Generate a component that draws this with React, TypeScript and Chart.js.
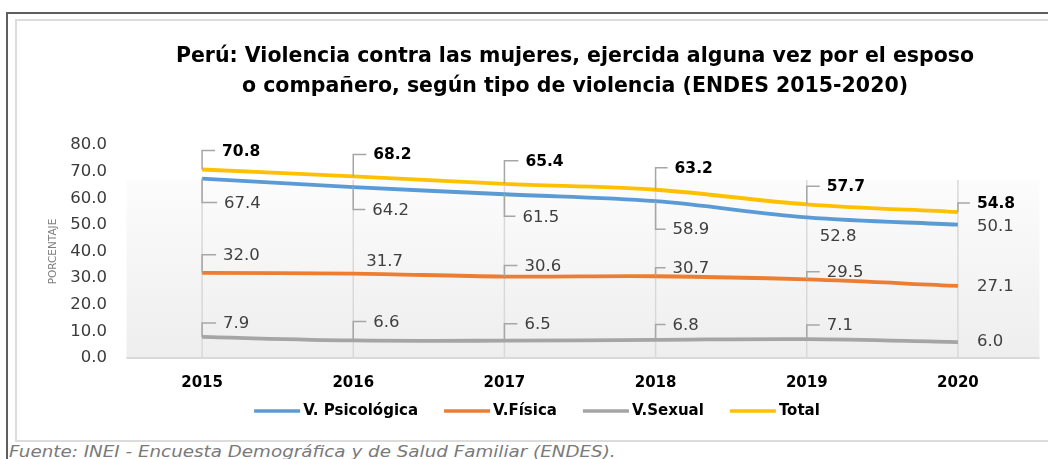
import React, { useEffect, useRef } from "react";
import { Chart, registerables } from "chart.js";

Chart.register(...registerables);

// ---------- data ----------
const years = ["2015", "2016", "2017", "2018", "2019", "2020"];
const psicologica = [67.4, 64.2, 61.5, 58.9, 52.8, 50.1];
const fisica = [32.0, 31.7, 30.6, 30.7, 29.5, 27.1];
const sexual = [7.9, 6.6, 6.5, 6.8, 7.1, 6.0];
const total = [70.8, 68.2, 65.4, 63.2, 57.7, 54.8];
const seriesNames = ["V. Psicológica", "V.Física", "V.Sexual", "Total"];
const yMin = 0;
const yMax = 80;
const yStep = 10;
const titleLines = [
  "Perú: Violencia contra las mujeres, ejercida alguna vez por el esposo",
  "o compañero, según tipo de violencia (ENDES 2015-2020)",
];
const yAxisTitle = "PORCENTAJE";
const footnote = "Fuente: INEI - Encuesta Demográfica y de Salud Familiar (ENDES).";

// ---------- label placement (pixel offsets from the point: dx to text left, dy to text middle, callout flag) ----------
const psicLabelPos = [[22, 25, 1], [19, 23.5, 1], [18, 23, 1], [17, 29, 1], [13, 19, 0], [19, 2, 0]];
const fisicaLabelPos = [[21, -17, 1], [13, -11.5, 0], [20, -10, 1], [17, -7.5, 1], [20, -6.7, 1], [19, 1, 0]];
const sexualLabelPos = [[21, -13, 1], [20, -18, 1], [20, -16, 1], [17, -14.4, 1], [20, -13, 1], [19, 0, 0]];
const totalLabelPos = [[20, -18, 1], [20, -21, 1], [21, -22, 1], [19, -21, 1], [20, -17, 1], [19, -8, 1]];

const FONT = '"DejaVu Sans", Verdana, sans-serif';
const colors = ["#5B9BD5", "#ED7D31", "#A5A5A5", "#FFC000"];

const decorPlugin = {
  id: "decor",
  beforeDatasetsDraw(chart: any) {
    const { ctx, chartArea, scales } = chart;
    const x = scales.x;
    const fillTop = chartArea.top + 35;
    ctx.save();
    const g = ctx.createLinearGradient(0, fillTop, 0, chartArea.bottom);
    g.addColorStop(0, "#fcfcfc");
    g.addColorStop(1, "#eeeeee");
    ctx.fillStyle = g;
    ctx.fillRect(chartArea.left, fillTop, chartArea.right - chartArea.left + 6, chartArea.bottom - fillTop);
    ctx.strokeStyle = "#d9d9d9";
    ctx.lineWidth = 1.5;
    years.forEach((_, i) => {
      const px = x.getPixelForTick(i);
      ctx.beginPath();
      ctx.moveTo(px, fillTop);
      ctx.lineTo(px, chartArea.bottom);
      ctx.stroke();
    });
    ctx.lineWidth = 2;
    ctx.beginPath();
    ctx.moveTo(chartArea.left, chartArea.bottom);
    ctx.lineTo(chartArea.right + 6, chartArea.bottom);
    ctx.stroke();
    ctx.restore();
  },
  afterDatasetsDraw(chart: any) {
    const { ctx } = chart;
    ctx.save();
    chart.data.datasets.forEach((ds: any, di: number) => {
      const meta = chart.getDatasetMeta(di);
      const pos = ds.labelPos;
      meta.data.forEach((pt: any, i: number) => {
        const [dx, dy, br] = pos[i];
        const px = pt.x;
        const py = pt.y;
        const ty = py + dy;
        if (br) {
          ctx.strokeStyle = "#a6a6a6";
          ctx.lineWidth = 1.5;
          ctx.beginPath();
          ctx.moveTo(px, py);
          ctx.lineTo(px, ty - 1);
          ctx.lineTo(px + dx - 7, ty - 1);
          ctx.stroke();
        }
        ctx.font = ds.labelFont;
        ctx.fillStyle = ds.labelColor;
        ctx.textAlign = "left";
        ctx.textBaseline = "middle";
        ctx.fillText(Number(ds.data[i]).toFixed(1), px + dx, ty);
      });
    });
    ctx.restore();
  },
  afterDraw(chart: any) {
    const { ctx, chartArea } = chart;
    ctx.save();
    // title
    ctx.font = `bold 20.5px ${FONT}`;
    ctx.fillStyle = "#000";
    ctx.textAlign = "center";
    ctx.textBaseline = "middle";
    const cx = (chartArea.left + chartArea.right) / 2 - 5;
    titleLines.forEach((t, i) => ctx.fillText(t, cx, 57 + i * 30));
    // legend
    const lineW = 46;
    const textGap = 3;
    const itemGap = 26;
    ctx.font = `bold 15px ${FONT}`;
    const widths = chart.data.datasets.map((ds: any) => ctx.measureText(ds.label).width);
    const totalW = widths.reduce((a: number, w: number) => a + lineW + textGap + w, 0) + itemGap * (widths.length - 1);
    let lx = 537 - totalW / 2;
    const ly = 411;
    ctx.textAlign = "left";
    chart.data.datasets.forEach((ds: any, i: number) => {
      ctx.strokeStyle = ds.borderColor;
      ctx.lineWidth = 3.5;
      ctx.beginPath();
      ctx.moveTo(lx, ly);
      ctx.lineTo(lx + lineW, ly);
      ctx.stroke();
      ctx.fillStyle = "#000";
      ctx.fillText(ds.label, lx + lineW + textGap, ly);
      lx += lineW + textGap + widths[i] + itemGap;
    });
    ctx.restore();
  },
};

export default function App() {
  const ref = useRef<HTMLCanvasElement | null>(null);
  useEffect(() => {
    const prevMargin = document.body.style.margin;
    document.body.style.margin = "0";
    const canvas = ref.current!;
    const mk = (label: string, data: number[], color: string, pos: number[][], bold: boolean) => ({
      label,
      data,
      borderColor: color,
      backgroundColor: color,
      borderWidth: 3.8,
      pointRadius: 0,
      pointHoverRadius: 0,
      tension: 0.35,
      fill: false,
      labelPos: pos,
      labelFont: bold ? `bold 15.5px ${FONT}` : `16.5px ${FONT}`,
      labelColor: bold ? "#000" : "#404040",
    });
    const chart = new Chart(canvas, {
      type: "line",
      data: {
        labels: years,
        datasets: [
          mk(seriesNames[0], psicologica, colors[0], psicLabelPos, false),
          mk(seriesNames[1], fisica, colors[1], fisicaLabelPos, false),
          mk(seriesNames[2], sexual, colors[2], sexualLabelPos, false),
          mk(seriesNames[3], total, colors[3], totalLabelPos, true),
        ] as any,
      },
      options: {
        responsive: false,
        animation: false,
        devicePixelRatio: 1,
        layout: { padding: { left: 42.5, right: 14.5, top: 145, bottom: 61 } },
        font: { family: FONT } as any,
        plugins: {
          title: { display: false },
          tooltip: { enabled: false },
          legend: { display: false },
        },
        scales: {
          x: {
            type: "category",
            offset: true,
            grid: { display: false, drawTicks: false },
            border: { display: false },
            ticks: { padding: 16, color: "#000", font: { family: FONT, size: 15, weight: "bold" } },
            afterFit(s: any) {
              s.height = 40;
            },
          },
          y: {
            min: yMin,
            max: yMax,
            grid: { display: false, drawTicks: false },
            border: { display: false },
            ticks: {
              stepSize: yStep,
              padding: 19.5,
              color: "#3b3b3b",
              font: { family: FONT, size: 16.5 },
              callback: (v: any) => Number(v).toFixed(1),
            },
            title: {
              display: true,
              text: yAxisTitle,
              color: "#7f7f7f",
              padding: { top: 4, bottom: 0 },
              font: { family: FONT, size: 10.5 },
            },
            afterFit(s: any) {
              s.width = 84;
            },
          },
        },
      } as any,
      plugins: [decorPlugin],
    });
    return () => {
      chart.destroy();
      document.body.style.margin = prevMargin;
    };
  }, []);

  return (
    <div
      style={{
        position: "fixed",
        left: 0,
        top: 0,
        width: 1048,
        height: 459,
        overflow: "hidden",
        background: "#fff",
      }}
    >
      <div
        style={{
          position: "absolute",
          left: 6,
          top: 12,
          width: 1200,
          height: 600,
          borderLeft: "2px solid #5f5f5f",
          borderTop: "2px solid #5f5f5f",
        }}
      />
      <div
        style={{
          position: "absolute",
          left: 15,
          top: 19,
          width: 1200,
          height: 419,
          border: "2px solid #dcdcdc",
        }}
      />
      <div
        style={{
          position: "absolute",
          left: 9,
          top: 442,
          whiteSpace: "nowrap",
          fontFamily: FONT,
          fontStyle: "italic",
          fontSize: 15,
          lineHeight: "20px",
          color: "#7a7a7a",
          transform: "scaleX(1.22)",
          transformOrigin: "left top",
        }}
      >
        {footnote}
      </div>
      <canvas
        ref={ref}
        width={1048}
        height={459}
        style={{ position: "absolute", left: 0, top: 0, width: 1048, height: 459, display: "block" }}
      />
    </div>
  );
}
